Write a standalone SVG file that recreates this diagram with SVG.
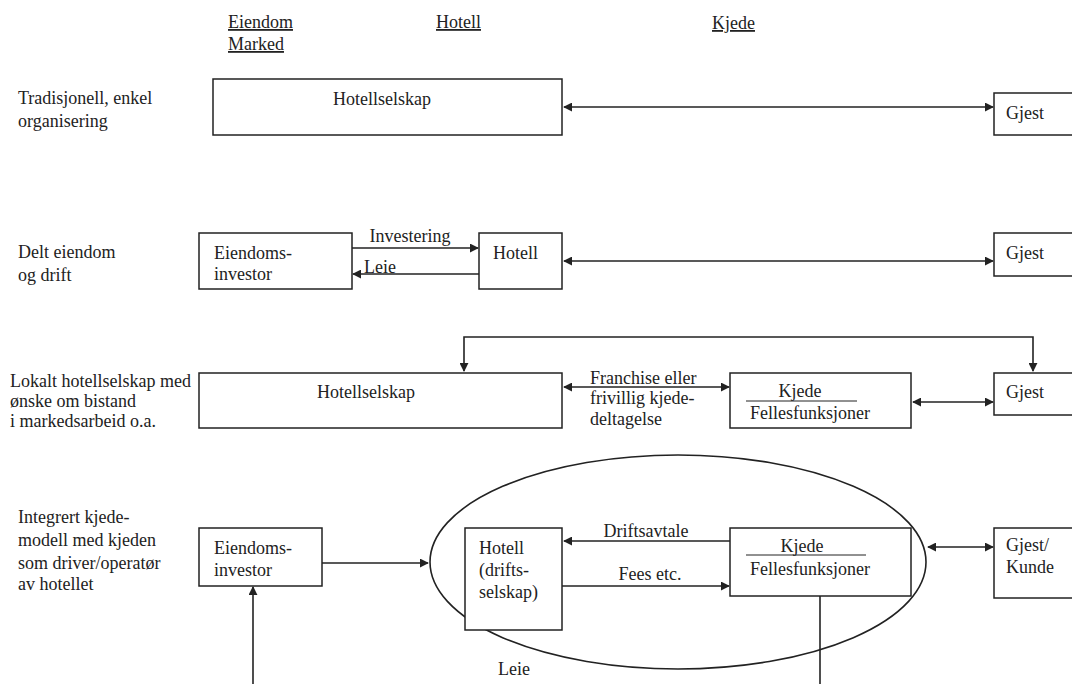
<svg xmlns="http://www.w3.org/2000/svg" width="1072" height="684" viewBox="0 0 1072 684">
<style>
text{font-family:'Liberation Serif','DejaVu Serif',serif;font-size:18px;fill:#222}
.u{text-decoration:underline}
.box{fill:#fff;stroke:#222;stroke-width:1.5}
.ln{fill:none;stroke:#222;stroke-width:1.6}
.sub{stroke:#222;stroke-width:1}
</style>
<defs>
<marker id="ah" viewBox="0 0 10 10" refX="9" refY="5" markerWidth="9" markerHeight="9" markerUnits="userSpaceOnUse" orient="auto-start-reverse"><path d="M0,0 L10,5 L0,10 z" fill="#222"/></marker>
</defs>
<rect width="1072" height="684" fill="#fff"/>
<g id="headers">
<text class="u" x="228" y="28">Eiendom</text>
<text class="u" x="228" y="50">Marked</text>
<text class="u" x="436" y="28">Hotell</text>
<text class="u" x="712" y="29">Kjede</text>
</g>
<g id="rowlabels">
<text x="18" y="104">Tradisjonell, enkel</text>
<text x="18" y="127">organisering</text>
<text x="18" y="258">Delt eiendom</text>
<text x="18" y="281">og drift</text>
<text x="10" y="387">Lokalt hotellselskap med</text>
<text x="10" y="407">ønske om bistand</text>
<text x="10" y="427">i markedsarbeid o.a.</text>
<text x="18" y="523">Integrert kjede-</text>
<text x="18" y="546">modell med kjeden</text>
<text x="18" y="569">som driver/operatør</text>
<text x="18" y="590">av hotellet</text>
</g>
<g id="ellipse"><ellipse class="ln" cx="678" cy="562" rx="248" ry="107"/></g>
<g id="n1-hotellselskap"><rect class="box" x="213" y="79" width="349" height="56"/><text x="382" y="105" text-anchor="middle">Hotellselskap</text></g>
<g id="n1-gjest"><rect class="box" x="994" y="93" width="82" height="42"/><text x="1006" y="119">Gjest</text></g>
<g id="n2-investor"><rect class="box" x="199" y="233" width="153" height="56"/><text x="214" y="259">Eiendoms-</text><text x="214" y="280">investor</text></g>
<g id="n2-hotell"><rect class="box" x="479" y="233" width="83" height="56"/><text x="493" y="259">Hotell</text></g>
<g id="n2-gjest"><rect class="box" x="994" y="233" width="82" height="43"/><text x="1006" y="259">Gjest</text></g>
<g id="n3-hotellselskap"><rect class="box" x="199" y="373" width="363" height="55"/><text x="366" y="398" text-anchor="middle">Hotellselskap</text></g>
<g id="n3-kjede"><rect class="box" x="730" y="373" width="181" height="55"/><text x="800" y="397" text-anchor="middle">Kjede</text><line class="sub" x1="746" y1="401" x2="857" y2="401"/><text x="750" y="419">Fellesfunksjoner</text></g>
<g id="n3-gjest"><rect class="box" x="994" y="373" width="82" height="42"/><text x="1006" y="398">Gjest</text></g>
<g id="n4-investor"><rect class="box" x="199" y="528" width="123" height="58"/><text x="214" y="554">Eiendoms-</text><text x="214" y="576">investor</text></g>
<g id="n4-hotell"><rect class="box" x="465" y="528" width="97" height="102"/><text x="479" y="554">Hotell</text><text x="479" y="576">(drifts-</text><text x="479" y="598">selskap)</text></g>
<g id="n4-kjede"><rect class="box" x="730" y="528" width="181" height="68"/><text x="802" y="552" text-anchor="middle">Kjede</text><line class="sub" x1="746" y1="555" x2="866" y2="555"/><text x="750" y="575">Fellesfunksjoner</text></g>
<g id="n4-gjest"><rect class="box" x="994" y="528" width="82" height="70"/><text x="1006" y="551">Gjest/</text><text x="1006" y="573">Kunde</text></g>
<g id="connectors">
<line class="ln" x1="564" y1="107" x2="993" y2="107" marker-start="url(#ah)" marker-end="url(#ah)"/>
<line class="ln" x1="352" y1="248" x2="478" y2="248" marker-end="url(#ah)"/>
<line class="ln" x1="479" y1="274" x2="353" y2="274" marker-end="url(#ah)"/>
<line class="ln" x1="564" y1="261" x2="993" y2="261" marker-start="url(#ah)" marker-end="url(#ah)"/>
<polyline class="ln" points="464,371 464,337 1033,337 1033,371" marker-start="url(#ah)" marker-end="url(#ah)"/>
<line class="ln" x1="564" y1="387" x2="729" y2="387" marker-start="url(#ah)" marker-end="url(#ah)"/>
<line class="ln" x1="913" y1="402" x2="993" y2="402" marker-start="url(#ah)" marker-end="url(#ah)"/>
<line class="ln" x1="322" y1="563" x2="428" y2="563" marker-end="url(#ah)"/>
<line class="ln" x1="730" y1="541" x2="564" y2="541" marker-end="url(#ah)"/>
<line class="ln" x1="562" y1="586" x2="729" y2="586" marker-end="url(#ah)"/>
<line class="ln" x1="928" y1="547" x2="993" y2="547" marker-start="url(#ah)" marker-end="url(#ah)"/>
<line class="ln" x1="820" y1="596" x2="820" y2="684"/>
<line class="ln" x1="253" y1="684" x2="253" y2="587" marker-end="url(#ah)"/>
</g>
<g id="conn-labels">
<text x="410" y="242" text-anchor="middle">Investering</text>
<text x="380" y="273" text-anchor="middle">Leie</text>
<text x="590" y="384">Franchise eller</text>
<text x="590" y="404">frivillig kjede-</text>
<text x="590" y="425">deltagelse</text>
<text x="646" y="537" text-anchor="middle">Driftsavtale</text>
<text x="650" y="580" text-anchor="middle">Fees etc.</text>
<text x="498" y="675">Leie</text>
</g>
</svg>
